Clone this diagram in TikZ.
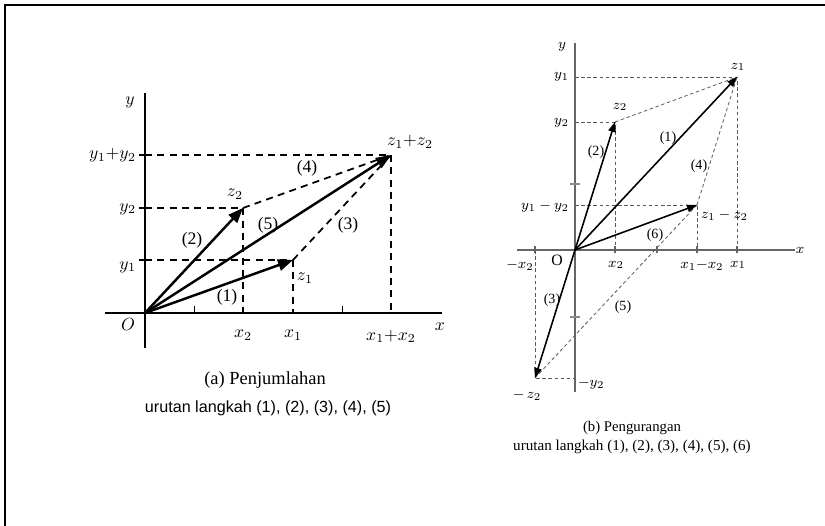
\documentclass[tikz,border=0pt]{standalone}
\usepackage{fontspec}
\setmainfont{Liberation Serif}
\newfontfamily\arialfont{Liberation Sans}
\usetikzlibrary{arrows.meta}

\tikzset{
  vecA/.style={line width=1.4pt,-{Triangle[length=3mm,width=2.3mm]}},
  vecB/.style={line width=0.9pt,-{Triangle[length=2mm,width=1.5mm]}},
  guideA/.style={line width=1pt,dash pattern=on 4pt off 3pt},
  guideB/.style={black!65,line width=0.45pt,dash pattern=on 2pt off 1.5pt},
  axisA/.style={line width=1.3pt},
  axisB/.style={black!60,line width=1.1pt},
  lblA/.style={font=\fontsize{10}{12}\selectfont,inner sep=1pt},
  lblB/.style={font=\fontsize{8}{10}\selectfont,inner sep=1pt},
}

\begin{document}
\begin{tikzpicture}
\useasboundingbox (0,0) rectangle (16.5,10.52);
% frame, only top and left edges show
\draw[line width=1.6pt] (0.1,0) -- (0.1,10.42) -- (16.5,10.42);

% (a) addition
\begin{scope}[shift={(2.9,4.26)}]
\coordinate (Oa) at (0,0);
\coordinate (za) at (2.96,1.06);
\coordinate (zb) at (1.96,2.1);
\coordinate (zs) at (4.92,3.16);

% axes and ticks
\draw[axisA] (-0.8,0) -- (5.94,0);
\draw[axisA] (0,-0.7) -- (0,4.4);
\foreach \t in {0.99,3.95} \draw[line width=0.8pt] (\t,0) -- (\t,0.14);
\foreach \c in {za,zb,zs} \draw[line width=0.8pt] (Oa |- \c) -- ++(-0.13,0);

% projections and parallelogram sides
\draw[guideA] (Oa |- za) -- (za) -- (za |- Oa);
\draw[guideA] (Oa |- zb) -- (zb) -- (zb |- Oa);
\draw[guideA] (Oa |- zs) -- (zs) -- (zs |- Oa);
\draw[guideA] (zb) -- (zs);
\draw[guideA] (za) -- (zs);

% vectors
\draw[vecA] (Oa) -- (za);
\draw[vecA] (Oa) -- (zb);
\draw[vecA] (Oa) -- (zs);

% labels
\node[lblA] at (-0.3,4.22) {$y$};
\node[lblA] at (5.9,-0.28) {$x$};
\node[lblA] at (-0.34,-0.24) {$O$};
\node[lblA,anchor=east] at (-0.14,3.16) {$y_1{+}y_2$};
\node[lblA,anchor=east] at (-0.14,2.08) {$y_2$};
\node[lblA,anchor=east] at (-0.14,0.92) {$y_1$};
\node[lblA,anchor=north] at (1.96,-0.3) {$x_2$};
\node[lblA,anchor=north] at (2.96,-0.3) {$x_1$};
\node[lblA,anchor=north] at (4.92,-0.3) {$x_1{+}x_2$};
\node[lblA] at (5.3,3.42) {$z_1{+}z_2$};
\node[lblA] at (1.8,2.38) {$z_2$};
\node[lblA] at (3.2,0.7) {$z_1$};
\node[lblA] at (3.24,2.9) {(4)};
\node[lblA] at (2.46,1.76) {(5)};
\node[lblA] at (4.06,1.76) {(3)};
\node[lblA] at (0.94,1.46) {(2)};
\node[lblA] at (1.64,0.32) {(1)};
\end{scope}

\node[font=\fontsize{10.5}{12}\selectfont] (capA) at (5.3,2.92) {(a) Penjumlahan};
\node[font=\arialfont\fontsize{9.2}{11}\selectfont] (stepsA) at (5.36,2.36)
  {urutan langkah (1), (2), (3), (4), (5)};

% (b) subtraction
\begin{scope}[shift={(11.5,5.52)}]
\coordinate (Ob) at (0,0);
\coordinate (zA) at (3.24,3.46);
\coordinate (zB) at (0.8,2.56);
\coordinate (zD) at (2.44,0.9);
\coordinate (zN) at (-0.8,-2.56);

% axes and ticks
\draw[axisB] (-1.16,0) -- (4.4,0);
\draw[axisB] (0,-2.84) -- (0,4.14);
\foreach \t in {-0.8,0.8,1.64,2.44,3.24} \draw[black!60,line width=0.6pt] (\t,-0.07) -- (\t,0.07);
\foreach \t in {1.32,-1.34} \draw[black!45,line width=0.6pt] (-0.1,\t) -- (0.1,\t);

% projections and construction lines
\draw[guideB] (Ob |- zA) -- (zA) -- (zA |- Ob);
\draw[guideB] (Ob |- zB) -- (zB) -- (zB |- Ob);
\draw[guideB] (Ob |- zD) -- (zD) -- (zD |- Ob);
\draw[guideB] (zN |- Ob) -- (zN) -- (Ob |- zN);
\draw[guideB] (zB) -- (zA);
\draw[guideB] (zD) -- (zA);
\draw[guideB] (zN) -- (zD);

% vectors
\draw[vecB] (Ob) -- (zA);
\draw[vecB] (Ob) -- (zB);
\draw[vecB] (Ob) -- (zN);
\draw[vecB] (Ob) -- (zD);

% labels
\node[lblB] at (-0.26,4.06) {$y$};
\node[lblB] at (4.5,0) {$x$};
\node[lblB,font=\fontsize{9}{10}\selectfont] at (-0.36,-0.2) {O};
\node[lblB,anchor=east] at (-0.08,3.46) {$y_1$};
\node[lblB,anchor=east] at (-0.08,2.54) {$y_2$};
\node[lblB,anchor=east] at (-0.08,0.86) {$y_1 - y_2$};
\node[lblB,anchor=west] at (0.02,-2.68) {$-y_2$};
\node[lblB] at (-1.1,-0.3) {$-x_2$};
\node[lblB] at (0.82,-0.3) {$x_2$};
\node[lblB] at (2.54,-0.3) {$x_1{-}x_2$};
\node[lblB] at (3.26,-0.3) {$x_1$};
\node[lblB] at (3.26,3.66) {$z_1$};
\node[lblB] at (0.9,2.86) {$z_2$};
\node[lblB,anchor=west] at (2.48,0.7) {$z_1 - z_2$};
\node[lblB] at (-0.96,-2.9) {$-\,z_2$};
\node[lblB] at (0.42,1.96) {(2)};
\node[lblB] at (1.86,2.24) {(1)};
\node[lblB] at (2.48,1.68) {(4)};
\node[lblB] at (1.6,0.3) {(6)};
\node[lblB] at (-0.46,-1.0) {(3)};
\node[lblB] at (0.96,-1.14) {(5)};
\end{scope}

\node[font=\fontsize{8.4}{10}\selectfont] (capB) at (12.64,1.96) {(b) Pengurangan};
\node[font=\fontsize{8.6}{10}\selectfont] (stepsB) at (12.64,1.58)
  {urutan langkah (1), (2), (3), (4), (5), (6)};
\end{tikzpicture}
\end{document}
